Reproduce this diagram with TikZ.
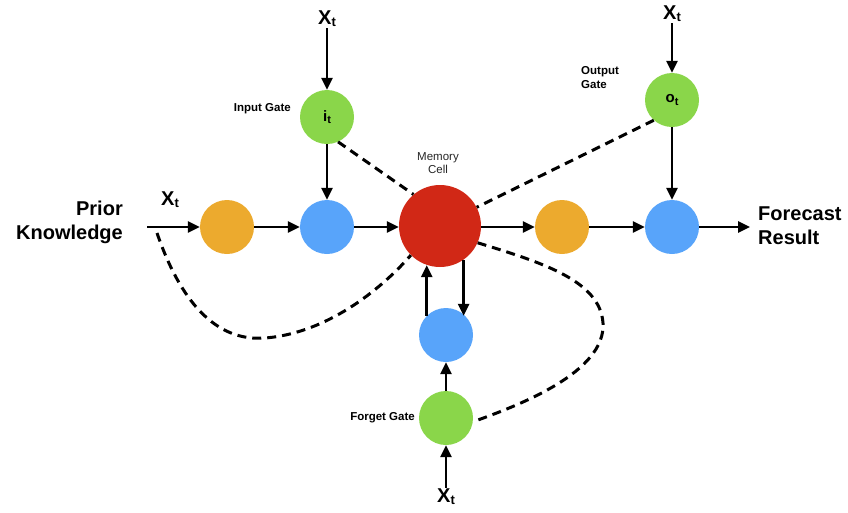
\documentclass[tikz,border=0pt]{standalone}
\usepackage{fontspec}
\setmainfont{Liberation Sans}
\usetikzlibrary{arrows.meta}
\definecolor{corange}{RGB}{236,170,46}
\definecolor{cblue}{RGB}{88,164,250}
\definecolor{cred}{RGB}{209,40,22}
\definecolor{cgreen}{RGB}{138,214,74}
\newcommand{\xtlabel}{\bfseries X\raisebox{-2pt}{\fontsize{13}{13}\selectfont t}}
\begin{document}
\begin{tikzpicture}[x=1pt,y=-1pt,
  dot/.style={circle,minimum size=54pt,inner sep=0pt},
  arr/.style={line width=2.6pt,-{Triangle[length=12pt,width=11pt]}},
  dsh/.style={line width=3pt,dash pattern=on 9pt off 6pt},
  big/.style={font=\fontsize{20}{24}\selectfont\bfseries,align=left,inner sep=0pt},
  xt/.style={font=\fontsize{20}{20}\selectfont,inner sep=1pt},
  small/.style={font=\fontsize{11.5}{14}\selectfont\bfseries,inner sep=0pt,align=left},
  gtxt/.style={font=\fontsize{15}{15}\selectfont\bfseries},
]
\useasboundingbox (0,0) rectangle (848,512);
% circles
\node[dot,fill=corange] (o1) at (227,227) {};
\node[dot,fill=cblue] (b1) at (327,227) {};
\node[dot,fill=cred,minimum size=82pt] (red) at (440,226) {};
\node[dot,fill=corange] (o2) at (562,227) {};
\node[dot,fill=cblue] (b2) at (672,227) {};
\node[dot,fill=cgreen,gtxt] (ig) at (327,117) {i\raisebox{-2.5pt}{\fontsize{11}{11}\selectfont t}};
\node[dot,fill=cgreen,gtxt] (og) at (672,100) {o\raisebox{-2.5pt}{\fontsize{11}{11}\selectfont t}};
\node[dot,fill=cblue] (fb) at (446,335) {};
\node[dot,fill=cgreen] (fg) at (446,418) {};
% labels
\node[xt] (x1) at (327,19) {\xtlabel};
\node[xt] (x2) at (672,14) {\xtlabel};
\node[xt] (x3) at (446,497) {\xtlabel};
\node[xt] (x0) at (170,200) {\xtlabel};
\node[big,anchor=east,align=right] (pk) at (123,222) {Prior\\Knowledge};
\node[big,anchor=west] (fr) at (758,226) {Forecast\\Result};
\node[small,anchor=east] (igl) at (291,109) {Input Gate};
\node[small,anchor=west] (ogl) at (581,78) {Output\\Gate};
\node[small,anchor=east] (fgl) at (415,418) {Forget Gate};
\node[font=\fontsize{11.5}{13.5}\selectfont,align=center,inner sep=0pt,text=black!85] (mcl) at (438,163) {Memory\\Cell};
% coordinates for free ends
\coordinate (pin) at (147,227);
\coordinate (pout) at (750,227);
% main arrows
\draw[arr] (pin) -- (o1);
\draw[arr] (o1) -- (b1);
\draw[arr] (b1) -- (red.west |- b1);
\draw[arr] (red.east |- o2) -- (o2);
\draw[arr] (o2) -- (b2);
\draw[arr] (b2) -- (pout);
\draw[arr] (x1) -- (ig);
\draw[arr] (ig) -- (b1);
\draw[arr] (x2) -- (og);
\draw[arr] (og) -- (b2);
\draw[arr] (x3) -- (fg);
\draw[arr] (fg) -- (fb);
\draw[arr] (fb.north west) -- (fb.north west |- red.-108);
\draw[arr] (red.-55) -- (red.-55 |- fb.north east);
% dashed links
\draw[dsh] (ig.-66) -- (red.130);
\draw[dsh] (og.228) -- (red.27);
\coordinate (lk) at (157,233);
\draw[dsh] (lk) .. controls (180,300) and (215,342) .. (265,338)
  .. controls (330,333) and (385,285) .. (red.225);
\draw[dsh] (red.-24) .. controls (540,262) and (600,280) .. (603,323)
  .. controls (606,372) and (520,405) .. (fg.-8);
\end{tikzpicture}
\end{document}
